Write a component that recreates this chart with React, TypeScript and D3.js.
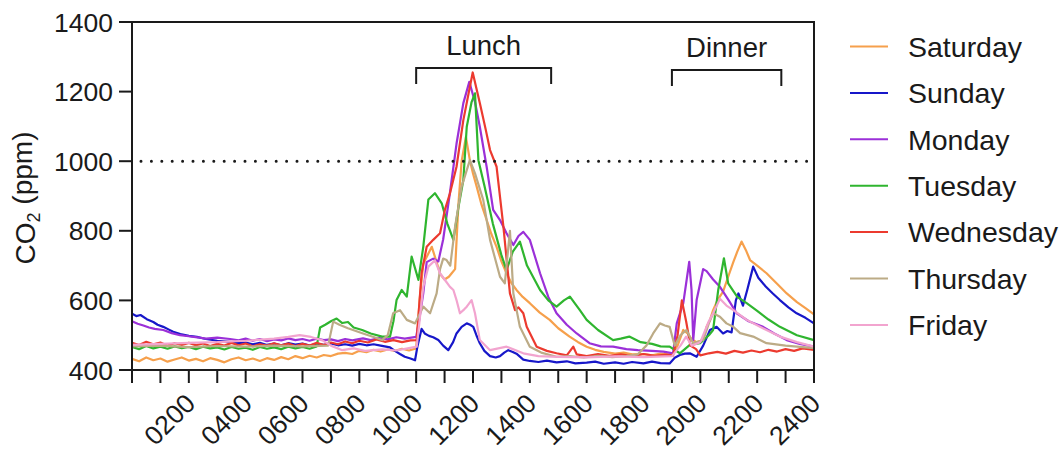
import React from "react";
import * as d3 from "d3";

// days in legend order, with line colours
const days = ["Saturday", "Sunday", "Monday", "Tuesday", "Wednesday", "Thursday", "Friday"];
const dayColors = ["#F6A04C", "#1717C9", "#9B30D8", "#2FB52F", "#EC3A2F", "#BCAB86", "#F2A4CF"];

// [hour of day, CO2 ppm]
const saturday: [number, number][] = [
  [0, 432], [0.25, 425], [0.5, 436], [0.75, 428], [1, 433], [1.25, 424], [1.5, 430], [1.75, 436], [2, 427],
  [2.25, 432], [2.5, 425], [2.75, 434], [3, 429], [3.25, 422], [3.5, 431], [3.75, 436], [4, 428], [4.25, 433],
  [4.5, 426], [4.75, 434], [5, 429], [5.25, 437], [5.5, 431], [5.75, 440], [6, 434], [6.25, 441], [6.5, 436],
  [6.75, 443], [7, 440], [7.25, 447], [7.5, 449], [7.75, 446], [8, 455], [8.25, 451], [8.5, 458], [8.75, 453],
  [9, 459], [9.25, 455], [9.5, 461], [9.75, 456], [10, 462], [10.12, 600], [10.25, 705], [10.4, 730],
  [10.55, 754], [10.7, 715], [10.85, 675], [11, 660], [11.15, 668], [11.25, 678], [11.37, 690], [11.49, 880],
  [11.6, 1000], [11.75, 1070], [11.89, 1003], [12, 965], [12.13, 927], [12.3, 875], [12.48, 831], [12.65, 790],
  [12.83, 754], [13, 712], [13.18, 678], [13.35, 650], [13.53, 630], [13.75, 610], [14, 592], [14.35, 565],
  [14.7, 544], [15, 520], [15.4, 496], [15.7, 480], [16, 467], [16.3, 458], [16.6, 452], [17, 447], [17.3, 450],
  [17.6, 445], [18, 446], [18.3, 442], [18.6, 447], [19, 443], [19.2, 470], [19.4, 515], [19.55, 505],
  [19.7, 488], [19.87, 480], [20.1, 486], [20.22, 524], [20.34, 544], [20.45, 572], [20.6, 600], [20.8, 625],
  [20.98, 668], [21.16, 710], [21.3, 740], [21.45, 769], [21.6, 745], [21.75, 716], [22, 700], [22.33, 678],
  [22.7, 648], [23.04, 620], [23.4, 595], [23.7, 578], [24, 560],
];
const sunday: [number, number][] = [
  [0, 562], [0.15, 555], [0.3, 558], [0.52, 546], [0.75, 538], [0.9, 530], [1.1, 524], [1.3, 516], [1.45, 510],
  [1.7, 503], [2, 498], [2.28, 495], [2.6, 489], [3, 484], [3.45, 481], [3.75, 477], [4, 479], [4.25, 474],
  [4.5, 478], [4.75, 472], [5, 476], [5.25, 471], [5.5, 477], [5.75, 473], [6, 476], [6.25, 470], [6.5, 475],
  [6.75, 472], [7, 476], [7.25, 471], [7.5, 474], [7.75, 470], [8, 475], [8.25, 471], [8.5, 474], [8.75, 470],
  [9.08, 465], [9.25, 455], [9.43, 446], [9.6, 438], [9.8, 433], [9.96, 428], [10.05, 470], [10.19, 518],
  [10.3, 505], [10.45, 498], [10.6, 494], [10.78, 486], [10.95, 470], [11.13, 457], [11.3, 480], [11.42, 505],
  [11.6, 524], [11.78, 534], [11.9, 530], [12.01, 524], [12.12, 500], [12.24, 477], [12.4, 455], [12.6, 440],
  [12.8, 436], [12.95, 440], [13.1, 450], [13.24, 457], [13.4, 452], [13.53, 447], [13.77, 430], [14, 426],
  [14.3, 423], [14.6, 427], [14.94, 422], [15.3, 425], [15.6, 419], [16, 421], [16.3, 424], [16.6, 418],
  [17, 422], [17.3, 418], [17.6, 423], [18, 419], [18.3, 424], [18.6, 420], [18.92, 419], [19.1, 435],
  [19.28, 443], [19.45, 447], [19.63, 448], [19.87, 438], [20.1, 470], [20.34, 515], [20.57, 524], [20.8, 505],
  [20.95, 512], [21.1, 508], [21.25, 600], [21.34, 620], [21.5, 585], [21.65, 630], [21.86, 697], [22.04, 665],
  [22.3, 640], [22.55, 620], [22.8, 601], [23.1, 580], [23.39, 563], [23.7, 550], [24, 534],
];
const monday: [number, number][] = [
  [0, 540], [0.2, 533], [0.4, 528], [0.6, 522], [0.8, 518], [1.1, 515], [1.4, 506], [1.69, 500], [2, 497],
  [2.3, 494], [2.6, 490], [3, 493], [3.45, 489], [3.75, 485], [4, 490], [4.25, 484], [4.5, 489], [4.75, 483],
  [5, 488], [5.25, 485], [5.5, 491], [5.75, 486], [6, 489], [6.25, 484], [6.5, 490], [6.75, 486], [7, 488],
  [7.25, 483], [7.5, 489], [7.75, 485], [8.13, 491], [8.4, 486], [8.7, 492], [9, 488], [9.3, 494], [9.6, 490],
  [10, 495], [10.1, 540], [10.25, 620], [10.37, 710], [10.6, 720], [10.78, 712], [10.95, 775], [11.19, 910],
  [11.42, 1050], [11.66, 1167], [11.87, 1228], [12.07, 1170], [12.24, 1099], [12.48, 984], [12.71, 860],
  [12.95, 831], [13.18, 793], [13.42, 759], [13.6, 785], [13.77, 797], [14, 774], [14.36, 678], [14.65, 610],
  [14.94, 563], [15.3, 530], [15.65, 505], [16.1, 477], [16.5, 468], [16.93, 467], [17.4, 460], [17.8, 457],
  [18.3, 455], [18.7, 453], [19.04, 448], [19.17, 534], [19.4, 592], [19.61, 711], [19.69, 630], [19.75, 486],
  [19.87, 601], [20.1, 690], [20.22, 684], [20.45, 660], [20.69, 639], [21, 600], [21.28, 563], [21.7, 540],
  [22.21, 524], [22.6, 505], [23.04, 486], [23.5, 475], [24, 467],
];
const tuesday: [number, number][] = [
  [0, 466], [0.25, 460], [0.5, 469], [0.75, 462], [1, 467], [1.25, 461], [1.5, 468], [1.75, 463], [2, 466],
  [2.25, 460], [2.5, 467], [2.75, 462], [3, 465], [3.25, 459], [3.5, 466], [3.75, 461], [4, 464], [4.25, 458],
  [4.5, 466], [4.75, 461], [5, 465], [5.25, 460], [5.5, 467], [5.75, 462], [6, 466], [6.25, 461], [6.5, 468],
  [6.62, 522], [6.8, 530], [7, 540], [7.2, 548], [7.4, 535], [7.6, 538], [7.8, 522], [8.1, 515], [8.4, 505],
  [8.8, 496], [9.08, 496], [9.2, 540], [9.31, 601], [9.49, 630], [9.67, 611], [9.84, 726], [10.08, 659],
  [10.25, 754], [10.43, 890], [10.66, 908], [10.9, 879], [11.1, 820], [11.31, 774], [11.49, 869], [11.66, 946],
  [11.78, 1099], [11.95, 1170], [12.07, 1195], [12.19, 1003], [12.4, 930], [12.7, 820], [13, 730], [13.18, 687],
  [13.4, 740], [13.65, 769], [13.9, 700], [14.36, 630], [14.65, 600], [14.94, 582], [15.2, 600], [15.41, 611],
  [15.76, 572], [16, 544], [16.4, 515], [16.93, 486], [17.2, 490], [17.5, 496], [17.9, 480], [18.3, 475],
  [18.6, 468], [18.92, 467], [19.28, 448], [19.63, 472], [19.99, 477], [20.3, 500], [20.45, 515], [20.63, 630],
  [20.83, 721], [20.98, 649], [21.3, 610], [21.63, 592], [22, 570], [22.4, 545], [22.8, 524], [23.4, 500],
  [24, 486],
];
const wednesday: [number, number][] = [
  [0, 478], [0.25, 472], [0.5, 481], [0.75, 474], [1, 479], [1.25, 470], [1.5, 477], [1.75, 472], [2, 478],
  [2.25, 471], [2.5, 476], [2.75, 469], [3, 475], [3.25, 470], [3.5, 478], [3.75, 471], [4, 476], [4.25, 468],
  [4.5, 474], [4.75, 470], [5, 477], [5.25, 471], [5.5, 476], [5.75, 469], [6, 475], [6.25, 470], [6.5, 478],
  [6.75, 472], [7, 479], [7.25, 474], [7.5, 482], [7.75, 477], [8, 484], [8.3, 479], [8.6, 488], [8.9, 481],
  [9.2, 486], [9.5, 480], [9.8, 485], [10.02, 486], [10.19, 678], [10.37, 754], [10.6, 774], [10.84, 793],
  [11.01, 860], [11.19, 908], [11.42, 984], [11.66, 1118], [11.99, 1255], [12.24, 1167], [12.45, 1090],
  [12.6, 1032], [12.83, 984], [13.07, 812], [13.3, 620], [13.48, 572], [13.6, 580], [13.77, 563], [13.89, 524],
  [14.24, 467], [14.6, 455], [14.94, 448], [15.3, 442], [15.53, 467], [15.65, 445], [16, 440], [16.4, 446],
  [16.8, 441], [17.2, 445], [17.6, 440], [18, 446], [18.4, 441], [18.8, 444], [19.04, 442], [19.2, 500],
  [19.35, 600], [19.5, 540], [19.65, 470], [19.85, 460], [20, 442], [20.3, 448], [20.6, 452], [20.9, 447],
  [21.2, 455], [21.5, 450], [21.8, 456], [22.1, 451], [22.4, 458], [22.7, 453], [23, 460], [23.3, 455],
  [23.6, 462], [24, 458],
];
const thursday: [number, number][] = [
  [0, 468], [1, 470], [2, 466], [3, 469], [4, 467], [5, 470], [6, 468], [6.9, 470], [7.08, 539], [7.3, 530],
  [7.6, 520], [8.13, 505], [8.5, 495], [8.8, 486], [9, 500], [9.19, 563], [9.43, 572], [9.67, 544], [9.96, 534],
  [10.25, 582], [10.49, 563], [10.72, 620], [10.84, 690], [10.95, 720], [11.07, 716], [11.2, 700], [11.37, 812],
  [11.6, 927], [11.89, 1003], [12.07, 965], [12.36, 889], [12.6, 774], [12.95, 668], [13.12, 649], [13.3, 800],
  [13.42, 620], [13.65, 524], [14, 467], [14.4, 450], [14.94, 438], [15.4, 440], [15.9, 436], [16.4, 441],
  [16.9, 437], [17.4, 440], [17.8, 445], [18.1, 470], [18.34, 505], [18.58, 534], [18.75, 528], [18.92, 524],
  [19.1, 470], [19.3, 500], [19.51, 515], [19.75, 477], [20.1, 486], [20.3, 534], [20.45, 563], [20.69, 553],
  [20.92, 534], [21.16, 524], [21.4, 506], [21.86, 496], [22.33, 477], [23, 470], [24, 463],
];
const friday: [number, number][] = [
  [0, 472], [1, 475], [2, 478], [3, 480], [4, 484], [5, 490], [5.5, 495], [5.9, 500], [6.3, 495], [6.7, 485],
  [7, 470], [7.4, 457], [7.8, 462], [8.2, 455], [8.8, 459], [9.3, 456], [9.7, 462], [10.02, 467], [10.25, 639],
  [10.43, 697], [10.66, 715], [10.84, 678], [11, 660], [11.19, 639], [11.31, 630], [11.42, 601], [11.54, 563],
  [11.7, 575], [11.78, 582], [11.95, 601], [12.07, 563], [12.24, 486], [12.6, 457], [13.18, 467], [13.77, 448],
  [14.3, 440], [15, 438], [16, 436], [17, 439], [18, 437], [19, 440], [19.3, 470], [19.5, 496], [19.7, 470],
  [20, 480], [20.3, 540], [20.45, 563], [20.69, 605], [20.92, 585], [21.16, 572], [21.63, 544], [22.2, 520],
  [22.8, 496], [23.4, 480], [24, 467],
];
const series = [saturday, sunday, monday, tuesday, wednesday, thursday, friday];

const yTicks = [400, 600, 800, 1000, 1200, 1400];
const xMinorTicks = d3.range(0, 25);
const xLabels = ["0200", "0400", "0600", "0800", "1000", "1200", "1400", "1600", "1800", "2000", "2200", "2400"];
const limitPpm = 1000;
const meals = [
  { name: "Lunch", start: 10, end: 14.75 },
  { name: "Dinner", start: 19, end: 22.85 },
];

const font = "'Liberation Sans', Arial, sans-serif";

export default function App() {
  const left = 132, right = 814, top = 22, bottom = 370;
  const x = d3.scaleLinear().domain([0, 24]).range([left, right]);
  const y = d3.scaleLinear().domain([400, 1400]).range([bottom, top]);
  const line = d3.line<[number, number]>().x((d) => x(d[0])).y((d) => y(d[1]));
  const ink = "#1a1a1a";

  return (
    <svg width={1064} height={451} style={{ position: "absolute", left: 0, top: 0, background: "#fff" }} fontFamily={font}>
      {/* data lines */}
      {series.map((s, i) => (
        <path key={days[i]} d={line(s) || ""} fill="none" stroke={dayColors[i]} strokeWidth={2.2} strokeLinejoin="round" />
      ))}

      {/* threshold */}
      <line x1={x(0) + 9} x2={right - 4} y1={y(limitPpm)} y2={y(limitPpm)} stroke={ink}
        strokeWidth={3} strokeDasharray="0 10.4" strokeLinecap="round" />

      {/* frame */}
      <path d={`M${left},${top}H${right}V${bottom}H${left}Z`} fill="none" stroke={ink} strokeWidth={2} />

      {/* y axis */}
      {yTicks.map((t) => (
        <g key={t}>
          <line x1={left - 13} x2={left} y1={y(t)} y2={y(t)} stroke={ink} strokeWidth={2} />
          <text x={left - 19} y={y(t)} dy="0.36em" textAnchor="end" fontSize={26.5} fill={ink}>{t}</text>
        </g>
      ))}
      <text transform={`translate(35,${(top + bottom) / 2 + 2}) rotate(-90)`} textAnchor="middle" fontSize={28} fill={ink}>
        CO<tspan fontSize={18} dy="0.3em">2</tspan><tspan dy="-0.3em"> (ppm)</tspan>
      </text>

      {/* x axis */}
      {xMinorTicks.map((h) => (
        <line key={h} x1={x(h)} x2={x(h)} y1={bottom} y2={bottom + 13} stroke={ink} strokeWidth={2} />
      ))}
      {xLabels.map((lab) => {
        const h = +lab / 100;
        return (
          <text key={lab} transform={`translate(${x(h) + 8},${bottom + 35}) rotate(-45)`} textAnchor="end" fontSize={26.5} fill={ink}>
            {lab}
          </text>
        );
      })}

      {/* meal brackets */}
      {meals.map((m, i) => {
        const by = i === 0 ? 68 : 70;
        return (
          <g key={m.name}>
            <path d={`M${x(m.start)},${by + 16}V${by}H${x(m.end)}V${by + 16}`} fill="none" stroke={ink} strokeWidth={2} />
            <text x={(x(m.start) + x(m.end)) / 2} y={by - 13} textAnchor="middle" fontSize={27.5} fill={ink}>{m.name}</text>
          </g>
        );
      })}

      {/* legend */}
      {days.map((d, i) => {
        const ly = 46.5 + i * 46.4;
        return (
          <g key={d}>
            <line x1={850} x2={888} y1={ly} y2={ly} stroke={dayColors[i]} strokeWidth={2} />
            <text x={908} y={ly} dy="0.36em" fontSize={28.5} fill={ink}>{d}</text>
          </g>
        );
      })}
    </svg>
  );
}
